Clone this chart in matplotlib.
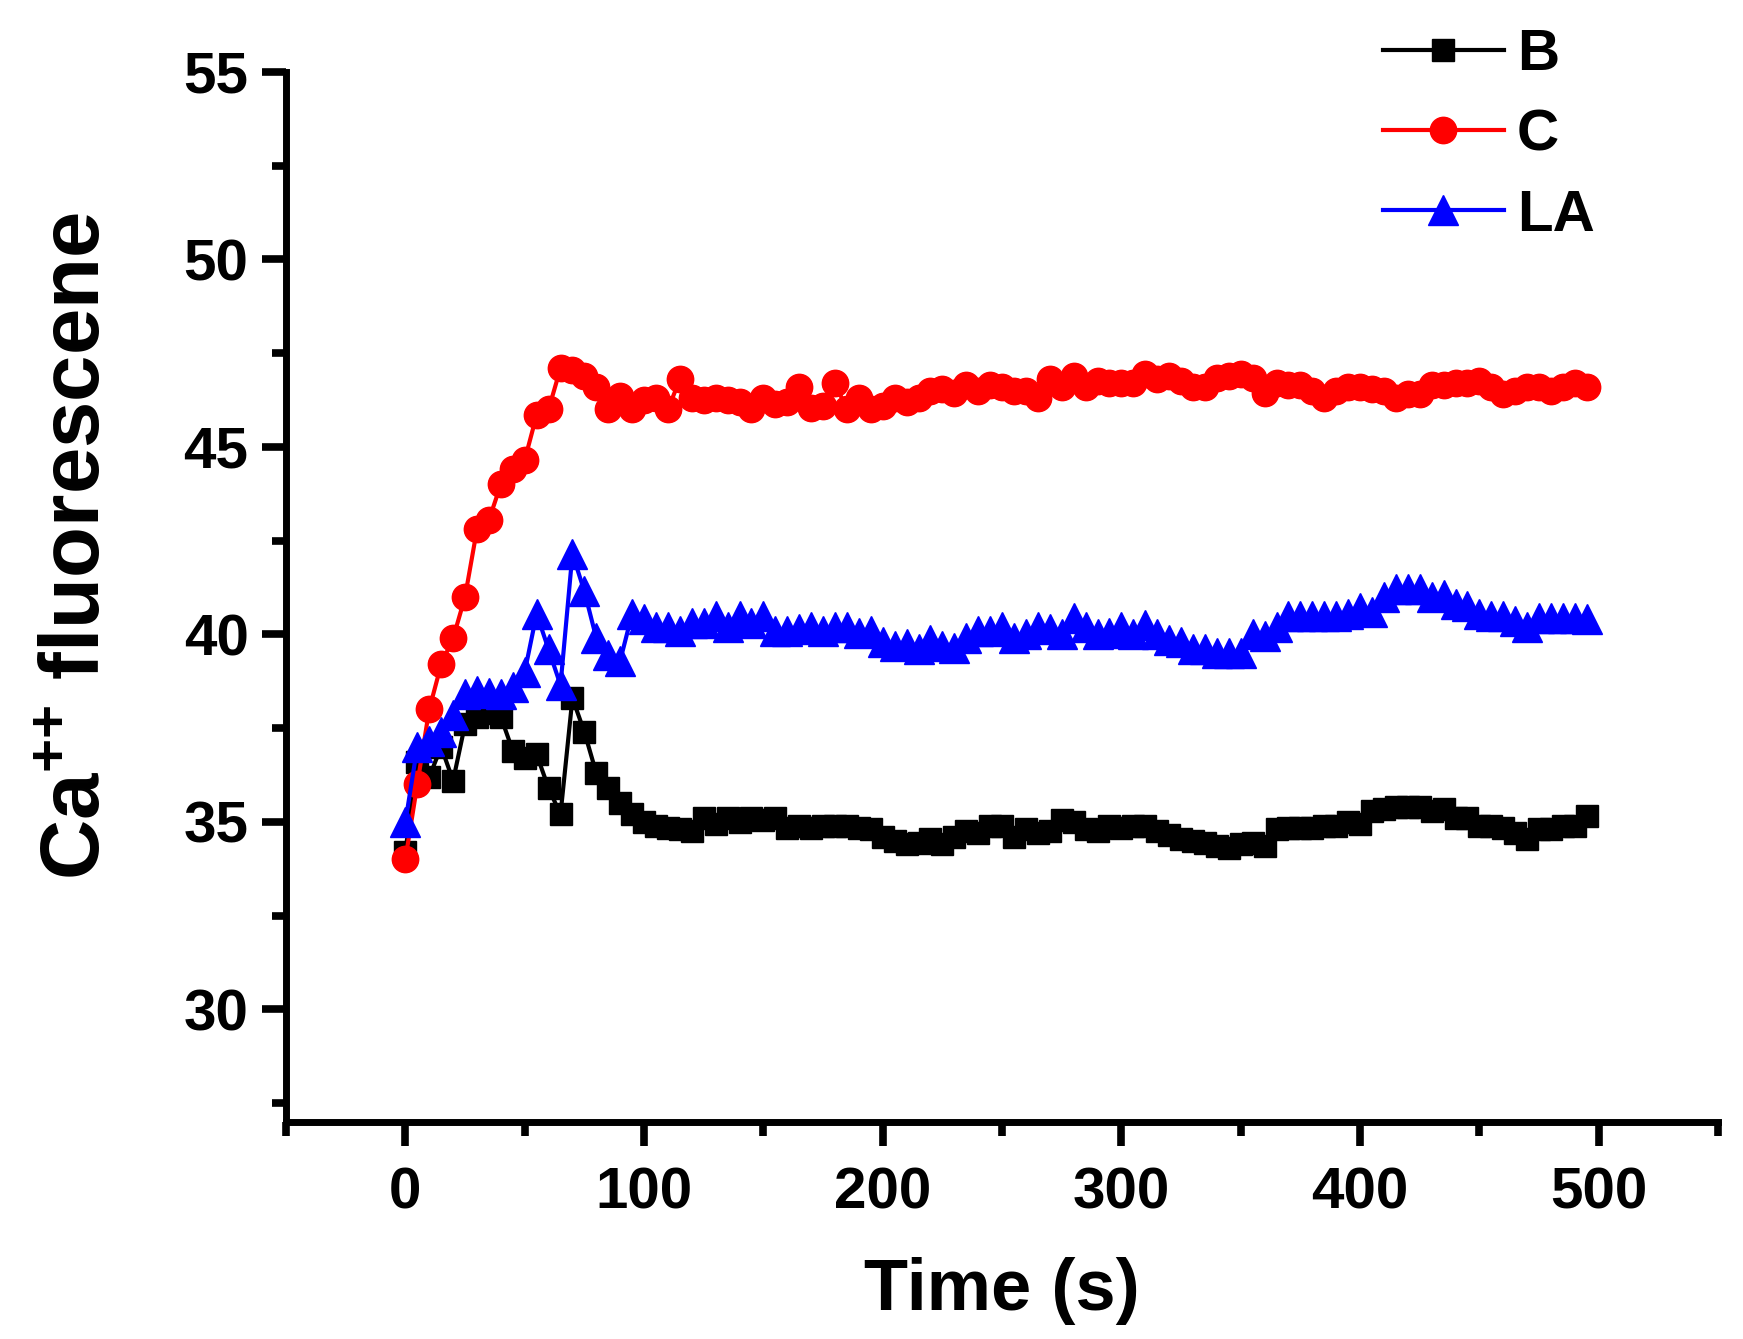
import numpy as np
import matplotlib
matplotlib.use('Agg')
import matplotlib.pyplot as plt
from matplotlib.ticker import MultipleLocator

plt.rcParams['font.family'] = ['Liberation Sans', 'DejaVu Sans']
plt.rcParams['font.weight'] = 'bold'
plt.rcParams['mathtext.fontset'] = 'custom'
plt.rcParams['mathtext.rm'] = 'Liberation Sans:bold'
plt.rcParams['mathtext.bf'] = 'Liberation Sans:bold'
plt.rcParams['mathtext.default'] = 'bf'

# sampling times (s)
time_s = np.arange(0, 500, 5)

# series values
B = [34.2, 36.6, 36.2, 37.0, 36.1, 37.6, 37.8, 37.9, 37.8, 36.9,
     36.7, 36.8, 35.9, 35.2, 38.3, 37.4, 36.3, 35.9, 35.5, 35.2,
     35.0, 34.9, 34.85, 34.8, 34.75, 35.1, 34.95, 35.1, 35.0, 35.1,
     35.05, 35.1, 34.85, 34.9, 34.85, 34.9, 34.9, 34.9, 34.85, 34.8,
     34.6, 34.5, 34.4, 34.45, 34.55, 34.4, 34.6, 34.75, 34.7, 34.9,
     34.9, 34.6, 34.8, 34.7, 34.75, 35.05, 35.0, 34.8, 34.75, 34.9,
     34.85, 34.9, 34.9, 34.75, 34.65, 34.55, 34.5, 34.45, 34.35, 34.3,
     34.4, 34.45, 34.35, 34.8, 34.85, 34.85, 34.85, 34.9, 34.9, 35.0,
     34.95, 35.3, 35.35, 35.4, 35.4, 35.4, 35.3, 35.35, 35.1, 35.1,
     34.9, 34.9, 34.85, 34.7, 34.55, 34.8, 34.8, 34.9, 34.9, 35.15]

C = [34.0, 36.0, 38.0, 39.2, 39.9, 41.0, 42.8, 43.05, 44.0, 44.4,
     44.65, 45.85, 46.0, 47.1, 47.05, 46.9, 46.6, 46.0, 46.35, 46.0,
     46.25, 46.3, 46.0, 46.8, 46.3, 46.25, 46.3, 46.25, 46.2, 46.0,
     46.3, 46.15, 46.2, 46.6, 46.05, 46.1, 46.7, 46.0, 46.3, 46.0,
     46.1, 46.3, 46.2, 46.3, 46.5, 46.55, 46.45, 46.65, 46.5, 46.65,
     46.6, 46.5, 46.5, 46.3, 46.8, 46.6, 46.9, 46.6, 46.75, 46.7,
     46.7, 46.7, 46.95, 46.8, 46.9, 46.75, 46.6, 46.6, 46.85, 46.9,
     46.95, 46.85, 46.45, 46.7, 46.65, 46.65, 46.5, 46.3, 46.5, 46.6,
     46.6, 46.55, 46.5, 46.3, 46.4, 46.4, 46.65, 46.65, 46.7, 46.7,
     46.75, 46.6, 46.4, 46.5, 46.6, 46.6, 46.5, 46.6, 46.7, 46.6]

LA = [35.0, 37.0, 37.15, 37.4, 37.85, 38.4, 38.5, 38.45, 38.4, 38.6,
      39.0, 40.55, 39.6, 38.65, 42.15, 41.15, 39.9, 39.45, 39.3, 40.55,
      40.4, 40.2, 40.2, 40.1, 40.3, 40.3, 40.5, 40.2, 40.5, 40.3,
      40.5, 40.1, 40.1, 40.15, 40.2, 40.1, 40.2, 40.2, 40.05, 40.1,
      39.8, 39.7, 39.75, 39.6, 39.85, 39.7, 39.65, 39.9, 40.1, 40.1,
      40.2, 39.9, 40.0, 40.2, 40.15, 40.0, 40.45, 40.2, 40.0, 40.05,
      40.2, 40.0, 40.25, 40.0, 39.85, 39.8, 39.6, 39.6, 39.5, 39.5,
      39.5, 40.0, 39.95, 40.2, 40.5, 40.5, 40.5, 40.5, 40.5, 40.55,
      40.7, 40.6, 41.0, 41.2, 41.2, 41.2, 41.0, 41.05, 40.8, 40.75,
      40.55, 40.5, 40.5, 40.35, 40.2, 40.45, 40.45, 40.45, 40.45, 40.4]

fig = plt.figure(figsize=(17.43, 13.39), dpi=100)
ax = fig.add_axes([0.1641, 0.1621, 0.8216, 0.7842])

lw = 3.0
ax.plot(time_s, B, color='black', marker='s', ms=16, mew=1, lw=lw, label='B')
ax.plot(time_s, C, color='red', marker='o', ms=19, mew=1, lw=lw, label='C')
ax.plot(time_s, LA, color='blue', marker='^', ms=21, mew=1, lw=lw, label='LA')

ax.set_xlim(-50, 550)
ax.set_ylim(27, 55)
ax.xaxis.set_major_locator(MultipleLocator(100))
ax.xaxis.set_minor_locator(MultipleLocator(50))
ax.yaxis.set_major_locator(MultipleLocator(5))
ax.yaxis.set_minor_locator(MultipleLocator(2.5))

for side in ['top', 'right']:
    ax.spines[side].set_visible(False)
for side in ['left', 'bottom']:
    ax.spines[side].set_linewidth(5)

ax.tick_params(which='major', direction='out', length=17, width=5.5, labelsize=42, pad=10)
ax.tick_params(which='minor', direction='out', length=10, width=5.5)
ax.tick_params(axis='x', which='major', pad=15)
for lab in ax.get_xticklabels() + ax.get_yticklabels():
    lab.set_fontweight('bold')

ax.set_xlabel('Time (s)', fontsize=52, fontweight='bold', labelpad=26)
fig.text(0.045, 0.592, r'Ca$^{{+}{+}}$ fluorescene', rotation=90, fontsize=60,
         fontweight='bold', ha='center', va='center')

leg = ax.legend(loc='upper left', bbox_to_anchor=(0.7935, 0.979), bbox_transform=fig.transFigure,
                frameon=False, fontsize=42, handlelength=2.07, handletextpad=0.22,
                labelspacing=0.45, borderpad=0, borderaxespad=0)
for t in leg.get_texts():
    t.set_fontweight('bold')

fig.savefig('out.png', dpi=100)
